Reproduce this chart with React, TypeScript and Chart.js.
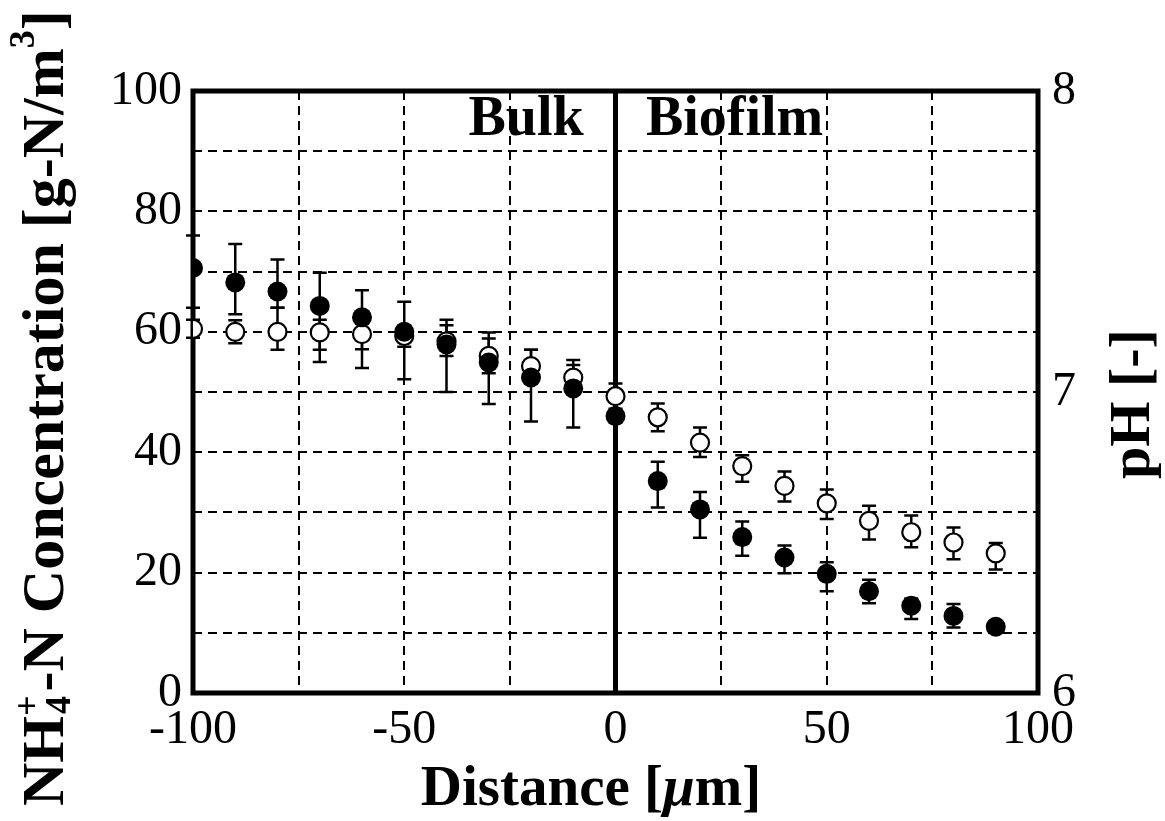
import React, { useEffect, useRef } from "react";
import { Chart, registerables } from "chart.js";

Chart.register(...registerables);

// ---- data ----
const distance = [-100, -90, -80, -70, -60, -50, -40, -30, -20, -10, 0, 10, 20, 30, 40, 50, 60, 70, 80, 90];

// NH4+-N concentration [g-N/m3] (filled circles, left axis)
const nh4 = [70.6, 68.2, 66.7, 64.3, 62.4, 60.0, 57.9, 54.9, 52.4, 50.6, 46.0, 35.2, 30.5, 25.9, 22.5, 19.8, 16.9, 14.5, 12.8, 11.0];
const nh4Low = [64.0, 62.9, 64.0, 55.0, 54.0, 52.1, 50.0, 48.0, 45.1, 44.1, 46.0, 30.8, 25.8, 22.8, 19.9, 16.9, 14.9, 12.3, 10.9, 11.0];
const nh4High = [76.0, 74.6, 72.0, 69.8, 66.9, 65.0, 62.0, 59.9, 57.0, 55.3, 46.0, 38.4, 33.4, 28.5, 24.5, 21.7, 18.8, 15.7, 14.8, 11.0];

// pH [-] (open circles, right axis)
const ph = [7.21, 7.2, 7.2, 7.198, 7.192, 7.186, 7.168, 7.12, 7.086, 7.048, 6.986, 6.916, 6.832, 6.754, 6.688, 6.63, 6.572, 6.534, 6.5, 6.464];
const phLow = [7.18, 7.162, 7.14, 7.14, 7.142, 7.15, 7.12, 7.062, 7.03, 7.006, 6.944, 6.87, 6.784, 6.702, 6.636, 6.578, 6.51, 6.484, 6.444, 6.41];
const phHigh = [7.24, 7.238, 7.28, 7.24, 7.242, 7.22, 7.222, 7.178, 7.14, 7.09, 7.028, 6.962, 6.882, 6.79, 6.736, 6.676, 6.622, 6.59, 6.55, 6.498];

// tick labels
const xTickLabels = [-100, -50, 0, 50, 100];
const yTickLabels = [0, 20, 40, 60, 80, 100];
const phTickLabels = [6, 7, 8];

const regionLabels = ["Bulk", "Biofilm"];
const regionLabelX = [-34.8, 7.2]; // distance values where labels start

const SERIF = '"Liberation Serif", "Times New Roman", Times, serif';

const errLows = [nh4Low, phLow];
const errHighs = [nh4High, phHigh];

const framePlugin = {
  id: "frameAndBars",
  beforeDraw(chart: any) {
    const { ctx, scales } = chart;
    const x = scales.x;
    const top = chart.chartArea.top;
    ctx.save();
    ctx.fillStyle = "#000";
    ctx.font = `bold 56px ${SERIF}`;
    ctx.textBaseline = "alphabetic";
    ctx.textAlign = "left";
    regionLabels.forEach((t, i) => {
      ctx.fillText(t, x.getPixelForValue(regionLabelX[i]), top + 44);
    });
    ctx.restore();
  },
  beforeDatasetsDraw(chart: any) {
    const { ctx, chartArea, scales } = chart;
    ctx.save();
    // zero line
    const x0 = scales.x.getPixelForValue(0);
    ctx.strokeStyle = "#000";
    ctx.lineWidth = 5;
    ctx.setLineDash([]);
    ctx.beginPath();
    ctx.moveTo(x0, chartArea.top);
    ctx.lineTo(x0, chartArea.bottom);
    ctx.stroke();
    // frame
    ctx.lineWidth = 5;
    ctx.strokeRect(chartArea.left, chartArea.top, chartArea.right - chartArea.left, chartArea.bottom - chartArea.top);
    // error bars
    ctx.lineWidth = 2.5;
    chart.data.datasets.forEach((ds: any, i: number) => {
      const meta = chart.getDatasetMeta(i);
      const yScale = scales[meta.yAxisID];
      const lows = errLows[i];
      const highs = errHighs[i];
      meta.data.forEach((pt: any, j: number) => {
        const px = pt.x;
        const yl = yScale.getPixelForValue(lows[j]);
        const yh = yScale.getPixelForValue(highs[j]);
        if (Math.abs(yl - yh) < 1) return;
        ctx.beginPath();
        ctx.moveTo(px, yl);
        ctx.lineTo(px, yh);
        ctx.moveTo(px - 7, yl);
        ctx.lineTo(px + 7, yl);
        ctx.moveTo(px - 7, yh);
        ctx.lineTo(px + 7, yh);
        ctx.stroke();
      });
    });
    ctx.restore();
  },
  afterDraw(chart: any) {
    const { ctx } = chart;
    ctx.save();
    ctx.fillStyle = "#000";
    ctx.textBaseline = "alphabetic";
    ctx.textAlign = "left";

    // x-axis title: "Distance [μm]" with italic μ
    const f = `bold 57px ${SERIF}`;
    const fi = `italic bold 57px ${SERIF}`;
    const segs: [string, string][] = [["Distance [", f], ["μ", fi], ["m]", f]];
    let total = 0;
    segs.forEach(([t, font]) => { ctx.font = font; total += ctx.measureText(t).width; });
    let cx = 591 - total / 2;
    segs.forEach(([t, font]) => { ctx.font = font; ctx.fillText(t, cx, 805); cx += ctx.measureText(t).width; });

    // left title (rotated)
    ctx.save();
    ctx.translate(63, 806);
    ctx.rotate(-Math.PI / 2);
    const big = `bold 60px ${SERIF}`;
    const small = `bold 36px ${SERIF}`;
    let p = 0;
    ctx.font = big; ctx.fillText("NH", p, 0); p += ctx.measureText("NH").width;
    ctx.font = small;
    ctx.fillText("4", p + 2, 7);
    ctx.fillText("+", p, -24);
    p += Math.max(ctx.measureText("4").width, ctx.measureText("+").width) + 4;
    ctx.font = big; const mid = "-N Concentration [g-N/m"; ctx.fillText(mid, p, 0); p += ctx.measureText(mid).width;
    ctx.font = small; ctx.fillText("3", p, -29); p += ctx.measureText("3").width;
    ctx.font = big; ctx.fillText("]", p, 0);
    ctx.restore();

    // right title
    ctx.save();
    ctx.translate(1149, 404);
    ctx.rotate(-Math.PI / 2);
    ctx.font = `bold 58px ${SERIF}`;
    ctx.textAlign = "center";
    ctx.fillText("pH [-]", 0, 0);
    ctx.restore();

    ctx.restore();
  },
};

export default function App() {
  const ref = useRef<HTMLCanvasElement | null>(null);
  useEffect(() => {
    if (!ref.current) return;
    const tickFont = { family: SERIF, size: 48, weight: "normal" as const };
    const chart = new Chart(ref.current, {
      type: "scatter",
      data: {
        datasets: [
          {
            label: "NH4+-N",
            data: distance.map((d, i) => ({ x: d, y: nh4[i] })),
            yAxisID: "y",
            pointRadius: 10,
            pointBackgroundColor: "#000",
            pointBorderWidth: 0,
            pointBorderColor: "#000",
            showLine: false,
            order: 0,
          },
          {
            label: "pH",
            data: distance.map((d, i) => ({ x: d, y: ph[i] })),
            yAxisID: "y2",
            pointRadius: 9,
            pointBackgroundColor: "#fff",
            pointBorderWidth: 2.2,
            pointBorderColor: "#000",
            showLine: false,
            order: 1,
          },
        ],
      },
      options: {
        animation: false,
        responsive: false,
        devicePixelRatio: 1,
        events: [],
        layout: { padding: { top: 91, left: 0, right: 0, bottom: 0 } },
        plugins: { legend: { display: false }, tooltip: { enabled: false }, title: { display: false } },
        scales: {
          x: {
            type: "linear",
            position: "bottom",
            min: -100,
            max: 100,
            ticks: {
              stepSize: 25,
              autoSkip: false,
              maxRotation: 0,
              padding: 9,
              color: "#000",
              font: tickFont,
              callback: (v: any) => (xTickLabels.includes(Number(v)) ? String(v) : ""),
            },
            grid: { color: "#000", lineWidth: 2, drawTicks: false },
            border: { display: false, dash: [9, 6] },
            afterFit: (s: any) => { s.height = 128; s.paddingLeft = 0; s.paddingRight = 0; },
          },
          y: {
            type: "linear",
            position: "left",
            min: 0,
            max: 100,
            ticks: {
              stepSize: 10,
              autoSkip: false,
              padding: 11,
              color: "#000",
              font: tickFont,
              callback: (v: any) => (yTickLabels.includes(Number(v)) ? String(v) : ""),
            },
            grid: { color: "#000", lineWidth: 2, drawTicks: false },
            border: { display: false, dash: [9, 6] },
            afterFit: (s: any) => { s.width = 193; s.paddingTop = 0; s.paddingBottom = 0; },
          },
          y2: {
            type: "linear",
            position: "right",
            min: 6,
            max: 8,
            ticks: {
              stepSize: 1,
              autoSkip: false,
              padding: 14,
              color: "#000",
              font: tickFont,
              callback: (v: any) => (phTickLabels.includes(Number(v)) ? String(v) : ""),
            },
            grid: { display: false, drawTicks: false },
            border: { display: false },
            afterFit: (s: any) => { s.width = 127; s.paddingTop = 0; s.paddingBottom = 0; },
          },
        },
      },
      plugins: [framePlugin],
    } as any);
    return () => chart.destroy();
  }, []);
  return (
    <div style={{ position: "absolute", left: 0, top: 0, width: 1165, height: 821, background: "#fff" }}>
      <canvas ref={ref} width={1165} height={821} style={{ display: "block", width: 1165, height: 821 }} />
    </div>
  );
}
